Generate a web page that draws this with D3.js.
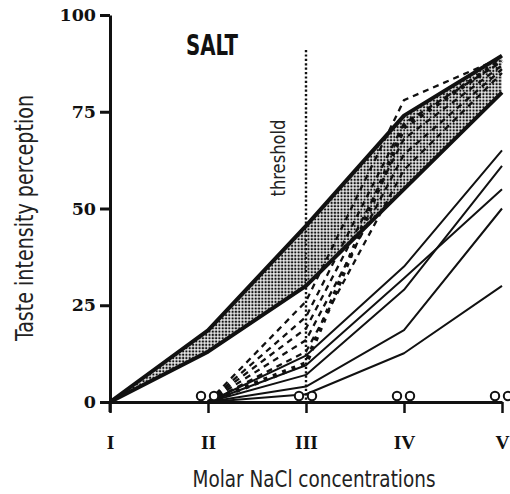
<!DOCTYPE html>
<html>
<head>
<meta charset="utf-8">
<script src="https://cdn.jsdelivr.net/npm/d3@7"></script>
<style>
  html, body { margin: 0; padding: 0; background: #fff; }
  svg { display: block; }
</style>
</head>
<body>
<svg id="chart" width="510" height="494"></svg>
<script>
// ---------- data ----------
const categories = ["I", "II", "III", "IV", "V"];
const yTicks = [0, 25, 50, 75, 100];

// shaded band (range of normal subjects)
const bandUpper = [0, 18.5, 45.5, 74, 89.5];
const bandLower = [0, 13, 30, 55, 80];

// dashed individual curves (start at II)
const dashedCats = ["II", "III", "IV", "V"];
const dashed1 = [0, 26, 78, 89];
const dashed2 = [0, 22, 72, 88];
const dashed3 = [0, 19, 68, 87];
const dashed4 = [0, 16, 64, 86];
const dashed5 = [0, 13, 60, 85];
const heavyDashed = [0, 10, 71, 88.5];

// solid individual curves (start at II)
const solidCats = ["II", "III", "IV", "V"];
const solid1 = [0, 12, 35, 65];
const solid2 = [0, 9.5, 32, 55];
const solid3 = [0, 7, 29, 61];
const solid4 = [0, 4, 18.6, 50];
const solid5 = [0, 2, 12.6, 30];

// subjects with no perception (open circles on the baseline)
const zeroResponders = ["II", "II", "III", "III", "IV", "IV", "V", "V"];

const thresholdCat = "III";
const title = "SALT";
const thresholdLabel = "threshold";
const xTitle = "Molar NaCl concentrations";
const yTitle = "Taste intensity perception";

// ---------- drawing ----------
const svg = d3.select("#chart");
const x = d3.scalePoint().domain(categories).range([110, 502]);
const y = d3.scaleLinear().domain([0, 100]).range([402, 15]);

const defs = svg.append("defs");
const pat = defs.append("pattern")
  .attr("id", "stipple").attr("patternUnits", "userSpaceOnUse")
  .attr("width", 3.3).attr("height", 3.3);
pat.append("rect").attr("width", 3.3).attr("height", 3.3).attr("fill", "#fff");
pat.append("rect").attr("x", 0.5).attr("y", 0.5).attr("width", 2.2).attr("height", 2.2).attr("fill", "#111");

// band fill
const area = d3.area()
  .x((d, i) => x(categories[i]))
  .y0((d, i) => y(bandLower[i]))
  .y1(d => y(d));
svg.append("path").datum(bandUpper).attr("d", area).attr("fill", "url(#stipple)");

const lineFor = cats => d3.line().x((d, i) => x(cats[i])).y(d => y(d));

// threshold line
svg.append("line")
  .attr("x1", x(thresholdCat)).attr("x2", x(thresholdCat))
  .attr("y1", 50).attr("y2", y(0))
  .attr("stroke", "#111").attr("stroke-width", 2.4).attr("stroke-dasharray", "2.2,2.2");

// dashed curves
[dashed1, dashed2, dashed3, dashed4, dashed5].forEach(s => {
  svg.append("path").datum(s).attr("d", lineFor(dashedCats))
    .attr("fill", "none").attr("stroke", "#111").attr("stroke-width", 2.3)
    .attr("stroke-dasharray", "6,5");
});
svg.append("path").datum(heavyDashed).attr("d", lineFor(dashedCats))
  .attr("fill", "none").attr("stroke", "#111").attr("stroke-width", 4.5)
  .attr("stroke-dasharray", "4,6");

// solid curves
[solid1, solid2, solid3, solid4, solid5].forEach(s => {
  svg.append("path").datum(s).attr("d", lineFor(solidCats))
    .attr("fill", "none").attr("stroke", "#111").attr("stroke-width", 2)
    .attr("stroke-linejoin", "round");
});

// band edges
[bandUpper, bandLower].forEach(s => {
  svg.append("path").datum(s).attr("d", lineFor(categories))
    .attr("fill", "none").attr("stroke", "#111").attr("stroke-width", 4)
    .attr("stroke-linejoin", "round");
});

// axes
const yAxis = svg.append("g").attr("transform", `translate(${x("I")},0)`)
  .call(d3.axisLeft(y).tickValues(yTicks).tickSize(10).tickSizeOuter(0).tickPadding(4));
yAxis.select(".domain").attr("stroke-width", 3).attr("stroke", "#111");
yAxis.selectAll(".tick line").attr("stroke-width", 3).attr("stroke", "#111");
yAxis.selectAll(".tick text")
  .attr("font-family", "'DejaVu Serif', serif").attr("font-weight", "bold")
  .attr("font-size", 17.5).attr("fill", "#111");

svg.append("line").attr("x1", x("I")).attr("x2", x("I"))
  .attr("y1", y(0)).attr("y2", y(0) + 10)
  .attr("stroke", "#111").attr("stroke-width", 3);

const xAxis = svg.append("g").attr("transform", `translate(0,${y(0)})`)
  .call(d3.axisBottom(x).tickSize(11).tickSizeOuter(0).tickPadding(22));
xAxis.select(".domain").attr("stroke-width", 3).attr("stroke", "#111");
xAxis.selectAll(".tick line").attr("stroke-width", 2.5).attr("stroke", "#111");
xAxis.selectAll(".tick text")
  .attr("font-family", "'Liberation Serif', serif").attr("font-weight", "bold")
  .attr("font-size", 19.5).attr("fill", "#111");

// zero-response circles
const counter = {};
svg.selectAll("circle.zero").data(zeroResponders).enter().append("circle")
  .attr("class", "zero")
  .attr("cx", d => { counter[d] = (counter[d] || 0) + 1; return x(d) + (counter[d] === 1 ? -7 : 6); })
  .attr("cy", y(0) - 6)
  .attr("r", 4.2).attr("fill", "#fff").attr("stroke", "#111").attr("stroke-width", 2);

// texts
const condensed = "'Liberation Sans Narrow', 'DejaVu Sans Condensed', 'Roboto', sans-serif";
svg.append("text").text(title)
  .attr("x", 186).attr("y", 55)
  .attr("font-family", condensed).attr("font-weight", "bold").attr("font-size", 29)
  .attr("textLength", 52).attr("lengthAdjust", "spacingAndGlyphs").attr("fill", "#111");

svg.append("text").text(thresholdLabel)
  .attr("transform", `translate(285,158) rotate(-90)`)
  .attr("text-anchor", "middle")
  .attr("font-family", condensed).attr("font-size", 19)
  .attr("textLength", 77).attr("lengthAdjust", "spacingAndGlyphs").attr("fill", "#222");

svg.append("text").text(xTitle)
  .attr("x", 314).attr("y", 487).attr("text-anchor", "middle")
  .attr("font-family", condensed).attr("font-size", 23)
  .attr("textLength", 243).attr("lengthAdjust", "spacingAndGlyphs").attr("fill", "#222");

svg.append("text").text(yTitle)
  .attr("transform", `translate(33,218) rotate(-90)`)
  .attr("text-anchor", "middle")
  .attr("font-family", condensed).attr("font-size", 24)
  .attr("textLength", 246).attr("lengthAdjust", "spacingAndGlyphs").attr("fill", "#222");
</script>
</body>
</html>
